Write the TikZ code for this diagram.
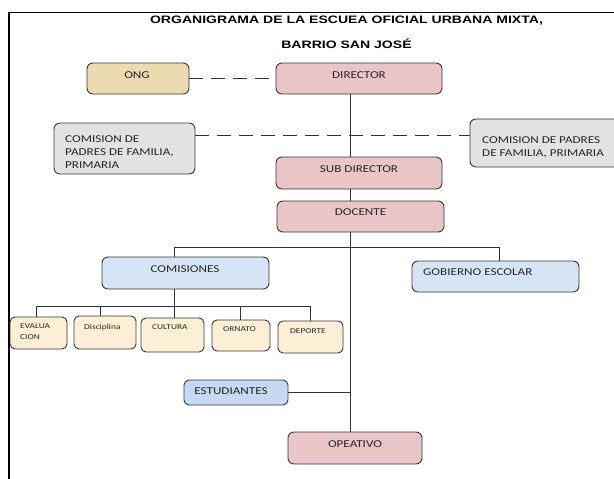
\documentclass[tikz,border=0pt]{standalone}
\usepackage{fontspec}
\newfontfamily\titlefont[FakeStretch=1.3]{Liberation Sans}
\newfontfamily\boxfont[FakeStretch=1.25]{Carlito}
\definecolor{pinkc}{RGB}{233,197,199}
\definecolor{ongc}{RGB}{236,218,177}
\definecolor{grayc}{RGB}{226,226,226}
\definecolor{bluec}{RGB}{214,229,246}
\definecolor{creamc}{RGB}{252,239,214}
\definecolor{estc}{RGB}{198,216,244}
\definecolor{edgec}{RGB}{55,55,55}
\begin{document}
\begin{tikzpicture}[x=1pt,y=-1pt,
  box/.style={draw=edgec, line width=0.9pt, rounded corners=6pt, inner sep=0pt},
  pinkbox/.style={box, fill=pinkc},
  ongbox/.style={box, fill=ongc},
  graybox/.style={box, fill=grayc},
  bluebox/.style={box, fill=bluec},
  creambox/.style={box, fill=creamc, rounded corners=5pt},
  estbox/.style={box, fill=estc, rounded corners=5pt},
  txt/.style={font=\boxfont\fontsize{10.5}{13}\selectfont, inner sep=0pt, text=black!85},
  smalltxt/.style={font=\boxfont\fontsize{7.5}{11}\selectfont, inner sep=0pt, text=black!85},
  titletxt/.style={font=\titlefont\bfseries\fontsize{10.8}{13}\selectfont, inner sep=0pt},
  conn/.style={draw=black!80, line width=0.8pt},
  dashline/.style={conn, dash pattern=on 14pt off 8pt}
]
\useasboundingbox (0,0) rectangle (614,479);
% frame
\draw[line width=2pt] (9,480) -- (9,12.5);
\draw[line width=1.3pt] (8,12.5) -- (615,12.5);
% title
\node[titletxt] (t1) at (346.5,21) {ORGANIGRAMA DE LA ESCUEA OFICIAL URBANA MIXTA,};
\node[titletxt] (t2) at (346.5,44) {BARRIO SAN JOSÉ};
% boxes
\node[ongbox, minimum width=102pt, minimum height=31pt] (ong) at (138,78.5) {};
\node[pinkbox, minimum width=166pt, minimum height=31pt] (dir) at (359,78.5) {};
\node[graybox, minimum width=141pt, minimum height=51pt] (cl) at (124.5,148.5) {};
\node[graybox, minimum width=155pt, minimum height=48pt] (cr) at (547.5,143) {};
\node[pinkbox, minimum width=166pt, minimum height=32pt] (sub) at (359,173) {};
\node[pinkbox, minimum width=167pt, minimum height=31pt] (doc) at (360.5,216.5) {};
\node[bluebox, minimum width=167pt, minimum height=32pt] (com) at (185.5,273) {};
\node[bluebox, minimum width=167pt, minimum height=31pt] (gob) at (495.5,276.5) {};
\node[creambox, minimum width=57pt, minimum height=32pt] (eva) at (38.5,333) {};
\node[creambox, minimum width=62pt, minimum height=33pt] (dis) at (105,332.5) {};
\node[creambox, minimum width=63pt, minimum height=34pt] (cul) at (172.5,335) {};
\node[creambox, minimum width=58pt, minimum height=31pt] (orn) at (241,335.5) {};
\node[creambox, minimum width=65pt, minimum height=32pt] (dep) at (310.5,337) {};
\node[estbox, minimum width=104pt, minimum height=25pt] (est) at (236,392.5) {};
\node[pinkbox, minimum width=134pt, minimum height=32pt] (ope) at (355,448) {};
% texts
\node[txt] (tong) at (137,75) {ONG};
\node[txt] (tdir) at (359,75) {DIRECTOR};
\node[txt, anchor=west, align=left] (tcl) at (65,152) {COMISION DE\\PADRES DE FAMILIA,\\PRIMARIA};
\node[txt, anchor=west, align=left] (tcr) at (482,147) {COMISION DE PADRES\\DE FAMILIA, PRIMARIA};
\node[txt] (tsub) at (359,169) {SUB DIRECTOR};
\node[txt] (tdoc) at (360.5,212) {DOCENTE};
\node[txt] (tcom) at (185,269) {COMISIONES};
\node[txt, anchor=west] (tgob) at (423,272) {GOBIERNO ESCOLAR};
\node[smalltxt, anchor=west, align=left] (teva) at (20,331.5) {EVALUA\\CION};
\node[smalltxt, anchor=west] (tdis) at (84,327) {Disciplina};
\node[smalltxt, anchor=west] (tcul) at (152,327) {CULTURA};
\node[smalltxt, anchor=west] (torn) at (223,329) {ORNATO};
\node[smalltxt, anchor=west] (tdep) at (290,331) {DEPORTE};
\node[txt] (test) at (231,391) {ESTUDIANTES};
\node[txt] (tope) at (355,444) {OPEATIVO};
% connectors
\coordinate (tx) at (350,0);
\draw[dashline] (ong.east) -- (dir.west);
\draw[dashline] ([yshift=13.5pt]cl.east) -- ([yshift=8pt]cr.west);
\draw[conn] (dir.south -| tx) -- (sub.north -| tx);
\draw[conn] (sub.south -| tx) -- (doc.north -| tx);
\draw[conn] (doc.south -| tx) -- (ope.north -| tx);
\draw[conn] (est.east) -- (est.east -| tx);
\draw[conn] ([xshift=-11.5pt]com.north) -- ++(0,-9) -| ([xshift=3.5pt]gob.north);
\draw[conn] ([xshift=-11.5pt]com.south) -- ++(0,17) coordinate (cb);
\draw[conn] ([xshift=-2.5pt]eva.north) |- (cb) -| ([xshift=-0.5pt]dep.north);
\draw[conn] ([xshift=-5pt]dis.north) -- ([xshift=-5pt]dis.north |- cb);
\draw[conn] (cb) -- (cb |- cul.north);
\draw[conn] ([xshift=-1pt]orn.north) -- ([xshift=-1pt]orn.north |- cb);
\end{tikzpicture}
\end{document}
